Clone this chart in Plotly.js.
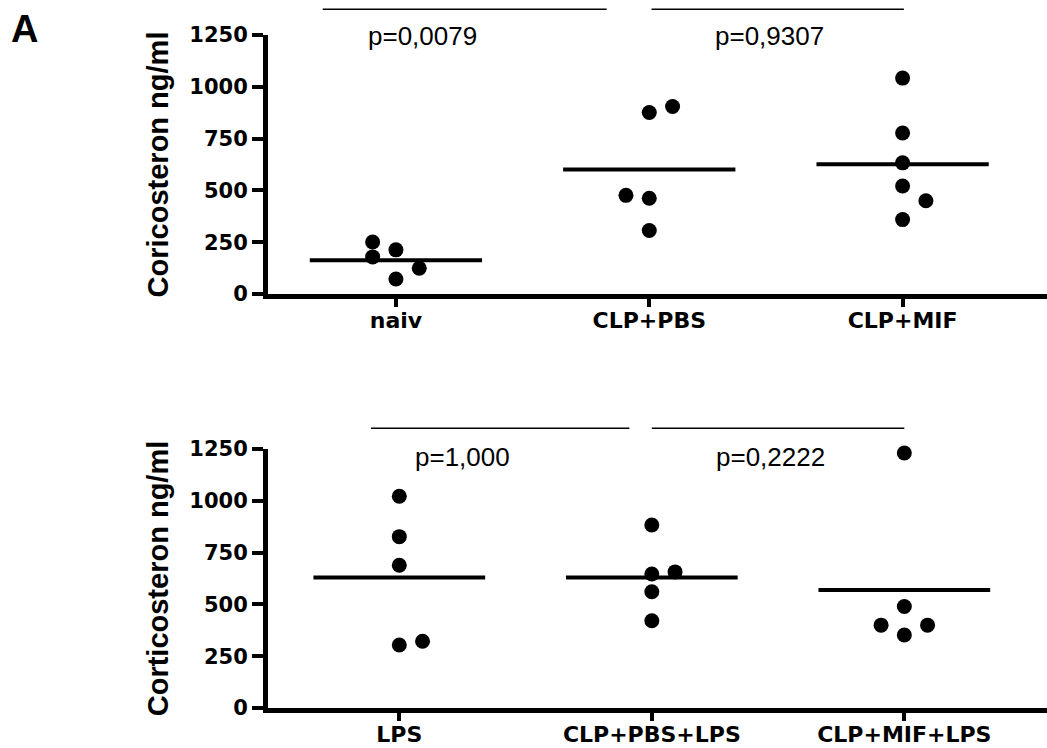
<!DOCTYPE html>
<html><head><meta charset="utf-8">
<script src="https://cdn.plot.ly/plotly-3.0.1.min.js"></script>
<style>html,body{margin:0;padding:0;background:#fff}#chart{width:1047px;height:748px}</style>
</head><body><div id="chart"></div>
<script>
// ---------- data ----------
const categoriesTop = ['naiv', 'CLP+PBS', 'CLP+MIF'];
const naiv = [72, 124, 213, 251, 179];
const clpPbs = [876, 905, 462, 476, 306];
const clpMif = [1042, 777, 521, 359, 633, 450];
const meanTop = [163, 601, 626];

const categoriesBottom = ['LPS', 'CLP+PBS+LPS', 'CLP+MIF+LPS'];
const lps = [1022, 827, 689, 304, 322];
const clpPbsLps = [883, 561, 421, 647, 657];
const clpMifLps = [1231, 490, 352, 400, 400];
const meanBottom = [630, 630, 570];

const yTickVals = [0, 250, 500, 750, 1000, 1250];
const pTop = ['p=0,0079', 'p=0,9307'];
const pBottom = ['p=1,000', 'p=0,2222'];
const yTitleTop = 'Coricosteron ng/ml';
const yTitleBottom = 'Corticosteron ng/ml';
const panelLabel = 'A';

// ---------- geometry / style ----------
const W = 1047, H = 748;
const M = {l: 268, r: 0, t: 35, b: 40};
const plotH = H - M.t - M.b;
const domTop = [0.6152, 1];
const domBottom = [0, 0.3848];
const yRange = [0, 1250];
const markerD = 15;
const slotStep = 0.092;
const halfLine = 0.34;

function pxPerUnit(dom) { return plotH * (dom[1] - dom[0]) / (yRange[1] - yRange[0]); }

// greedy swarm: shift points sideways when they would overlap
function swarm(values, center, ppu) {
  const placed = [];
  const xs = [];
  values.forEach(v => {
    const free = s => placed.every(p => p.slot !== s || Math.abs(p.v - v) * ppu >= 14.9);
    let chosen = 0;
    if (!free(0)) {
      for (let k = 1; k < 10; k++) {
        const left = placed.filter(p => p.slot < 0).length;
        const right = placed.filter(p => p.slot > 0).length;
        const order = left < right ? [-k, k] : [k, -k];
        const s = order.find(free);
        if (s !== undefined) { chosen = s; break; }
      }
    }
    placed.push({v, slot: chosen});
    xs.push(center + chosen * slotStep);
  });
  return xs;
}

function panelTraces(groups, means, dom, xa, ya) {
  const ppu = pxPerUnit(dom);
  let xs = [], ys = [];
  groups.forEach((g, i) => { xs = xs.concat(swarm(g, i, ppu)); ys = ys.concat(g); });
  const lx = [], ly = [];
  means.forEach((m, i) => { lx.push(i - halfLine, i + halfLine, null); ly.push(m, m, null); });
  return [
    {type: 'scatter', mode: 'lines', x: lx, y: ly, xaxis: xa, yaxis: ya,
     line: {color: '#000', width: 4}, hoverinfo: 'skip', showlegend: false, cliponaxis: false},
    {type: 'scatter', mode: 'markers', x: xs, y: ys, xaxis: xa, yaxis: ya,
     marker: {color: '#000', size: markerD}, showlegend: false, cliponaxis: false}
  ];
}

const data = [].concat(
  panelTraces([naiv, clpPbs, clpMif], meanTop, domTop, 'x', 'y'),
  panelTraces([lps, clpPbsLps, clpMifLps], meanBottom, domBottom, 'x2', 'y2')
);

const tickFont = {family: 'DejaVu Sans', size: 21, color: '#000', weight: 'bold'};
const xTickFont = {family: 'DejaVu Sans', size: 22, color: '#000', weight: 'bold'};
const titleFont = {family: 'Liberation Sans, Arial', size: 29, color: '#000', weight: 'bold'};
const pFont = {family: 'Liberation Sans, Arial', size: 26, color: '#000'};

function xAxis(range, cats, anchor) {
  return {domain: [0, 1], range: range, anchor: anchor, tickmode: 'array', tickvals: [0, 1, 2], ticktext: cats,
    showline: true, linecolor: '#000', linewidth: 5, ticks: 'outside', ticklen: 8, tickwidth: 4, tickcolor: '#000',
    showgrid: false, zeroline: false, tickfont: xTickFont, ticklabelstandoff: -5, fixedrange: true};
}
function yAxis(dom, title, anchor) {
  return {domain: dom, range: yRange, anchor: anchor, tickmode: 'array', tickvals: yTickVals,
    showline: true, linecolor: '#000', linewidth: 5, ticks: 'outside', ticklen: 11, tickwidth: 4, tickcolor: '#000',
    showgrid: false, zeroline: false, tickfont: tickFont, fixedrange: true,
    title: {text: title, font: titleFont, standoff: 14}};
}

function py(px) { return (H - M.b - px) / plotH; }

const shapes = [
  {type: 'line', xref: 'x', yref: 'paper', x0: -0.289, x1: 0.832, y0: py(9.3), y1: py(9.3), line: {color: '#000', width: 1.5}},
  {type: 'line', xref: 'x', yref: 'paper', x0: 1.009, x1: 2.005, y0: py(9.3), y1: py(9.3), line: {color: '#000', width: 1.5}},
  {type: 'line', xref: 'x2', yref: 'paper', x0: -0.112, x1: 0.911, y0: py(428.3), y1: py(428.3), line: {color: '#000', width: 1.5}},
  {type: 'line', xref: 'x2', yref: 'paper', x0: 1.0, x1: 2.0, y0: py(428.3), y1: py(428.3), line: {color: '#000', width: 1.5}}
];

const annotations = [
  {xref: 'x', yref: 'paper', x: 0.103, y: py(36), text: pTop[0], showarrow: false, font: pFont, xanchor: 'center', yanchor: 'middle'},
  {xref: 'x', yref: 'paper', x: 1.476, y: py(36), text: pTop[1], showarrow: false, font: pFont, xanchor: 'center', yanchor: 'middle'},
  {xref: 'x2', yref: 'paper', x: 0.251, y: py(457), text: pBottom[0], showarrow: false, font: pFont, xanchor: 'center', yanchor: 'middle'},
  {xref: 'x2', yref: 'paper', x: 1.469, y: py(457), text: pBottom[1], showarrow: false, font: pFont, xanchor: 'center', yanchor: 'middle'},
  {xref: 'paper', yref: 'paper', x: (24.5 - M.l) / (W - M.l), y: py(29), text: panelLabel, showarrow: false,
   font: {family: 'Liberation Sans, Arial', size: 38, color: '#000', weight: 'bold'}, xanchor: 'center', yanchor: 'middle'}
];

const layout = {
  width: W, height: H, margin: M, paper_bgcolor: '#fff', plot_bgcolor: '#fff', showlegend: false,
  xaxis: xAxis([-0.505, 2.570], categoriesTop, 'y'),
  yaxis: yAxis(domTop, yTitleTop, 'x'),
  xaxis2: xAxis([-0.520, 2.565], categoriesBottom, 'y2'),
  yaxis2: yAxis(domBottom, yTitleBottom, 'x2'),
  shapes: shapes, annotations: annotations
};

Plotly.newPlot('chart', data, layout, {displayModeBar: false, staticPlot: true});
</script>
</body></html>
